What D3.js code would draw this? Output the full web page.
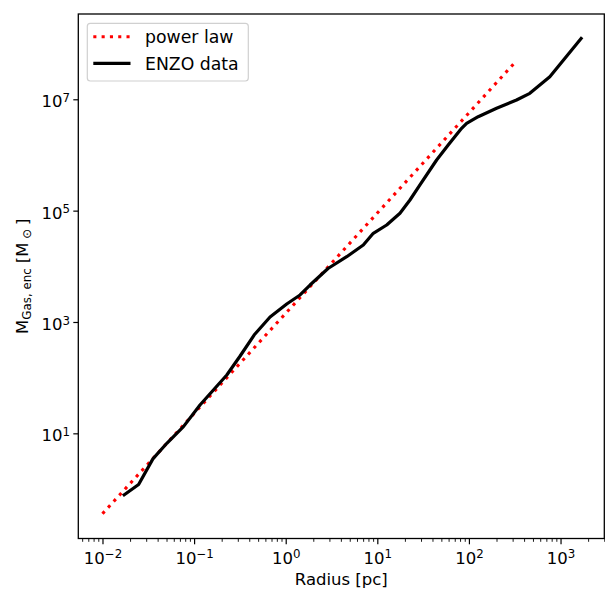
<!DOCTYPE html>
<html>
<head>
<meta charset="utf-8">
<script src="https://cdn.jsdelivr.net/npm/d3@7"></script>
<style>
  html, body { margin: 0; padding: 0; background: #fff; }
  svg { display: block; font-family: "DejaVu Sans", sans-serif; }
</style>
</head>
<body>
<svg id="chart" width="605" height="589"></svg>
<script>
// Enclosed gas mass profile from the ENZO run, with a power-law reference
const radiusEnzo = [0.0167, 0.0248, 0.0355, 0.0504, 0.0765, 0.116, 0.2275, 0.318, 0.452,
  0.675, 1.026, 1.434, 1.843, 2.896, 4.632, 7.03, 9.035, 12.65, 17.67, 22.71, 29.2,
  44.4, 59.4, 83.2, 94.3, 126.2, 200.4, 331, 462, 764, 1720];
const massEnzo = [0.757, 1.205, 3.48, 6.62, 13.2, 32.3, 111.6, 245, 583,
  1228, 2104, 3054, 4615, 9139, 14890, 24150, 39170, 55210, 89570, 155300, 289000,
  812000, 1.51e6, 3.01e6, 3.70e6, 4.87e6, 6.89e6, 9.71e6, 1.28e7, 2.55e7, 1.30e8];

const radiusPower = [0.01, 0.1, 1, 10, 100, 312];
const massPower = [0.36, 22.7, 1430, 90400, 5.70e6, 4.44e7];

const xTickValues = [1e-2, 1e-1, 1e0, 1e1, 1e2, 1e3];
const yTickValues = [1e1, 1e3, 1e5, 1e7];

const seriesNames = ["power law", "ENZO data"];

const W = 605, H = 589;
const margin = { left: 78.3, right: 0.7, top: 14, bottom: 50.5 };
const iw = W - margin.left - margin.right;
const ih = H - margin.top - margin.bottom;

const svg = d3.select("#chart");
const g = svg.append("g").attr("transform", `translate(${margin.left},${margin.top})`);

const x = d3.scaleLog().domain([Math.pow(10, -2.264), Math.pow(10, 3.4777)]).range([0, iw]);
const y = d3.scaleLog().domain([Math.pow(10, -0.889), Math.pow(10, 8.532)]).range([ih, 0]);

// minor ticks on the radius axis: 2..9 times each power of ten
const xMinor = [];
for (let k = -3; k <= 3; k++) {
  for (let m = 2; m <= 9; m++) {
    const v = m * Math.pow(10, k);
    if (v >= x.domain()[0] && v <= x.domain()[1] * 1.004) xMinor.push(v);
  }
}

const supLabel = (textSel, v) => {
  const e = Math.round(Math.log10(v));
  textSel.text(null);
  textSel.append("tspan").text("10");
  textSel.append("tspan")
    .attr("dy", -5.2)
    .attr("font-size", 11.8)
    .text(e < 0 ? "\u2212" + (-e) : String(e));
};

// minor x ticks
g.append("g")
  .attr("transform", `translate(0,${ih})`)
  .call(d3.axisBottom(x).tickValues(xMinor).tickSize(3.3).tickFormat(() => ""))
  .call(s => s.select(".domain").remove())
  .call(s => s.selectAll("line").attr("stroke", "#000").attr("stroke-width", 0.9));

// major x ticks
const gx = g.append("g")
  .attr("transform", `translate(0,${ih})`)
  .call(d3.axisBottom(x).tickValues(xTickValues).tickSize(5.8).tickPadding(0))
  .call(s => s.select(".domain").remove())
  .call(s => s.selectAll("line").attr("stroke", "#000").attr("stroke-width", 1.2));
gx.selectAll("text")
  .attr("y", 25).attr("dy", null)
  .attr("font-size", 16.5).attr("fill", "#000")
  .attr("font-family", "DejaVu Sans, sans-serif")
  .each(function(d) { supLabel(d3.select(this), d); });

// y ticks
const gy = g.append("g")
  .call(d3.axisLeft(y).tickValues(yTickValues).tickSize(5).tickPadding(3.3))
  .call(s => s.select(".domain").remove())
  .call(s => s.selectAll("line").attr("stroke", "#000").attr("stroke-width", 1.2));
gy.selectAll("text")
  .attr("dy", null).attr("y", 7.4)
  .attr("font-size", 16.5).attr("fill", "#000")
  .attr("font-family", "DejaVu Sans, sans-serif")
  .each(function(d) { supLabel(d3.select(this), d); });

// data lines
const line = d3.line().x(d => x(d[0])).y(d => y(d[1]));

g.append("path")
  .datum(radiusPower.map((r, i) => [r, massPower[i]]))
  .attr("d", line)
  .attr("fill", "none")
  .attr("stroke", "#ff0000")
  .attr("stroke-width", 3.1)
  .attr("stroke-dasharray", "3.1 5.2");

g.append("path")
  .datum(radiusEnzo.map((r, i) => [r, massEnzo[i]]))
  .attr("d", line)
  .attr("fill", "none")
  .attr("stroke", "#000")
  .attr("stroke-width", 3.2)
  .attr("stroke-linejoin", "round");

// frame
g.append("rect")
  .attr("width", iw).attr("height", ih)
  .attr("fill", "none").attr("stroke", "#000").attr("stroke-width", 1.3);

// axis titles
svg.append("text")
  .attr("x", margin.left + iw / 2).attr("y", 585)
  .attr("text-anchor", "middle")
  .attr("font-size", 16.5)
  .text("Radius [pc]");

const yl = svg.append("text")
  .attr("transform", `translate(28,${margin.top + ih / 2}) rotate(-90)`)
  .attr("text-anchor", "middle")
  .attr("font-size", 16.5);
yl.append("tspan").text("M");
yl.append("tspan").attr("font-size", 11.8).attr("dy", 3).text("Gas, enc");
yl.append("tspan").attr("dy", -3).text(" [M");
yl.append("tspan").attr("font-size", 11.8).attr("dy", 3).text(" \u2299 ");
yl.append("tspan").attr("dy", -3).text("]");

// legend
const lg = svg.append("g");
lg.append("rect")
  .attr("x", 87.3).attr("y", 23.3).attr("width", 161).attr("height", 57.7)
  .attr("rx", 3).attr("ry", 3)
  .attr("fill", "#fff").attr("fill-opacity", 0.8)
  .attr("stroke", "#d0d0d0").attr("stroke-width", 1.2);

const legendRows = [
  { name: seriesNames[0], color: "#ff0000", dash: "3.1 5.2", cy: 36.8 },
  { name: seriesNames[1], color: "#000", dash: null, cy: 63.3 }
];
legendRows.forEach(r => {
  lg.append("line")
    .attr("x1", 93.3).attr("x2", 130.5)
    .attr("y1", r.cy).attr("y2", r.cy)
    .attr("stroke", r.color)
    .attr("stroke-width", r.dash ? 3.1 : 3.2)
    .attr("stroke-dasharray", r.dash);
  lg.append("text")
    .attr("x", 145).attr("y", r.cy + 6.2)
    .attr("font-size", 17.3)
    .text(r.name);
});
</script>
</body>
</html>
